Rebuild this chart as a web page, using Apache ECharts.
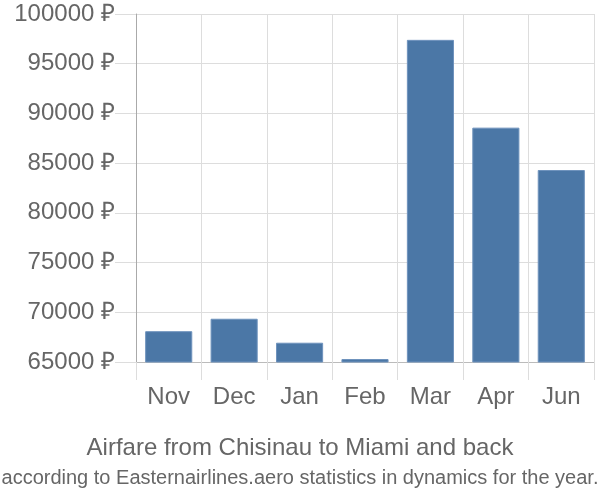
<!DOCTYPE html>
<html><head><meta charset="utf-8">
<script src="https://cdn.jsdelivr.net/npm/echarts@6/dist/echarts.min.js"></script>
<style>html,body{margin:0;padding:0;background:#fff}#c{width:600px;height:500px}</style>
</head><body><div id="c"></div>
<script>
const categories = ["Nov", "Dec", "Jan", "Feb", "Mar", "Apr", "Jun"];
const prices = [68100, 69350, 66940, 65300, 97400, 88570, 84310];
const yTicks = [65000, 70000, 75000, 80000, 85000, 90000, 95000, 100000];
const titleText = "Airfare from Chisinau to Miami and back";
const subtitleText = "according to Easternairlines.aero statistics in dynamics for the year.";

const chart = echarts.init(document.getElementById('c'), null, {renderer: 'canvas'});
chart.setOption({
  animation: false,
  textStyle: {fontFamily: 'Liberation Sans, Arial, sans-serif'},
  title: {
    text: titleText,
    subtext: subtitleText,
    left: 'center',
    top: 431,
    itemGap: 8,
    textStyle: {fontSize: 24, fontWeight: 'normal', color: '#666', fontFamily: 'Liberation Sans'},
    subtextStyle: {fontSize: 20, color: '#666', fontFamily: 'Liberation Sans'}
  },
  grid: {left: 136, right: 6, top: 14, bottom: 138, containLabel: false},
  xAxis: {
    type: 'category',
    data: categories,
    axisLine: {lineStyle: {color: '#bbb', width: 1}},
    axisTick: {show: true, length: 18, lineStyle: {color: '#ddd'}},
    splitLine: {show: true, lineStyle: {color: '#ddd'}},
    axisLabel: {color: '#666', fontSize: 24, margin: 23}
  },
  yAxis: {
    type: 'value',
    min: yTicks[0],
    max: yTicks[yTicks.length - 1],
    interval: 5000,
    axisLine: {show: true, lineStyle: {color: '#aaa'}},
    axisTick: {show: true, length: 21, lineStyle: {color: '#ddd'}},
    splitLine: {show: true, lineStyle: {color: '#ddd'}},
    axisLabel: {color: '#666', fontSize: 24, margin: 21, formatter: v => v + ' ₽'}
  },
  series: [{
    type: 'bar',
    data: prices,
    barCategoryGap: '28%',
    itemStyle: {color: '#4b77a6', borderColor: '#6f93bd', borderWidth: 1}
  }]
});
</script></body></html>
